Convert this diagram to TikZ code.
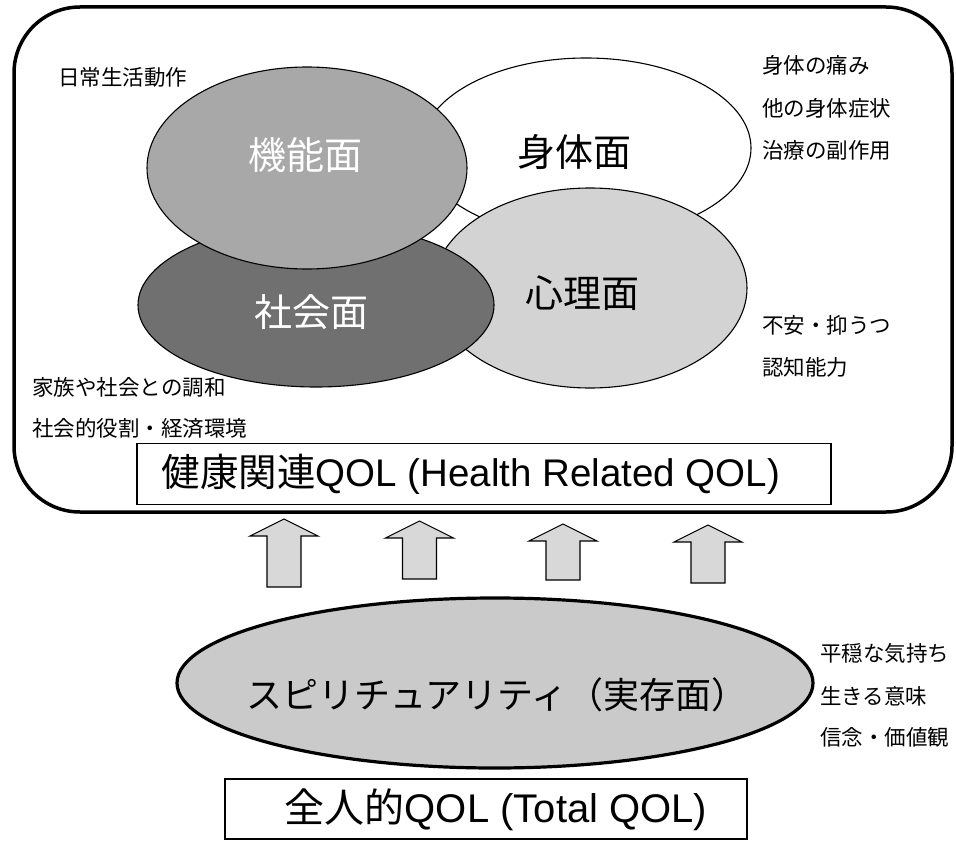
\documentclass[tikz,border=0pt]{standalone}
\usepackage{fontspec}
\setmainfont{Liberation Sans}
\newfontfamily\jp{Noto Sans CJK JP}
\newfontfamily\lat{Liberation Sans}
\usetikzlibrary{shapes.geometric}
\definecolor{kinou}{HTML}{A8A8A8}
\definecolor{shakai}{HTML}{707070}
\definecolor{shinri}{HTML}{D3D3D3}
\definecolor{spirit}{HTML}{CACACA}
\definecolor{arrowfill}{HTML}{D8D8D8}
\newcommand\blkarrow[3]{%
  \draw[arrowsty] (#1,#2) -- (#1+34,#2+17) -- (#1+17,#2+17) -- (#1+17,#3)
    -- (#1-17,#3) -- (#1-17,#2+17) -- (#1-34,#2+17) -- cycle;}
\begin{document}
\begin{tikzpicture}[x=1pt,y=-1pt,
  circ/.style={ellipse, draw, line width=1.1pt, inner sep=0pt},
  small/.style={font=\jp\fontsize{21.5}{24}\selectfont, anchor=west, inner sep=0pt},
  big/.style={font=\jp\fontsize{38}{44}\selectfont, inner sep=0pt},
  titlebox/.style={draw, line width=1.1pt, fill=white, inner sep=0pt},
  arrowsty/.style={draw, line width=1.1pt, fill=arrowfill, line join=miter}]
\useasboundingbox (0,0) rectangle (956,843);
% outer frame
\draw[line width=3.5pt, rounded corners=66pt] (14,7) rectangle (952,512);
% ellipses
\node[circ, fill=white, minimum width=330pt, minimum height=180pt] (shintai) at (586,148) {};
\node[circ, fill=shinri, minimum width=314pt, minimum height=200pt] (shinri) at (590,288) {};
\node[circ, fill=shakai, minimum width=356pt, minimum height=164pt] (shakai) at (316,305) {};
\node[circ, fill=kinou, minimum width=320pt, minimum height=202pt] (kinou) at (307,168) {};
% ellipse labels
\node[big] (tshintai) at (574,152) {身体面};
\node[big, text=white] (tkinou) at (305,155) {機能面};
\node[big, text=white] (tshakai) at (311,312) {社会面};
\node[big] (tshinri) at (582,293) {心理面};
% side labels
\node[small] (l1) at (58,77) {日常生活動作};
\node[small] (r1) at (762,65) {身体の痛み};
\node[small] (r2) at (762,108) {他の身体症状};
\node[small] (r3) at (762,150) {治療の副作用};
\node[small] (r4) at (762,325) {不安・抑うつ};
\node[small] (r5) at (762,367) {認知能力};
\node[small] (l2) at (32,387) {家族や社会との調和};
\node[small] (l3) at (32,428) {社会的役割・経済環境};
% health related QOL box
\node[titlebox, minimum width=694pt, minimum height=61pt] (hrq) at (484,474) {};
\node[inner sep=0pt, font=\fontsize{38.5}{44}\selectfont] (thrq) at (471,474)
  {{\jp 健康関連}{\lat QOL (Health Related QOL)}};
% block arrows
\blkarrow{284}{519}{587}
\blkarrow{419.5}{521}{579}
\blkarrow{563}{524}{580}
\blkarrow{708}{525}{583}
% spirituality
\node[ellipse, draw, line width=3.2pt, fill=spirit, minimum width=636pt, minimum height=170pt, inner sep=0pt] (spirit) at (495,683) {};
\node[big, font=\jp\fontsize{36}{42}\selectfont] (tspirit) at (497,695) {スピリチュアリティ（実存面）};
\node[small] (s1) at (820,653) {平穏な気持ち};
\node[small] (s2) at (820,696) {生きる意味};
\node[small] (s3) at (820,737) {信念・価値観};
% total QOL box
\node[titlebox, minimum width=522pt, minimum height=60pt] (tqol) at (486,809) {};
\node[inner sep=0pt, font=\fontsize{40}{46}\selectfont] (ttqol) at (496,810)
  {{\jp 全人的}{\lat QOL (Total QOL)}};
\end{tikzpicture}
\end{document}
